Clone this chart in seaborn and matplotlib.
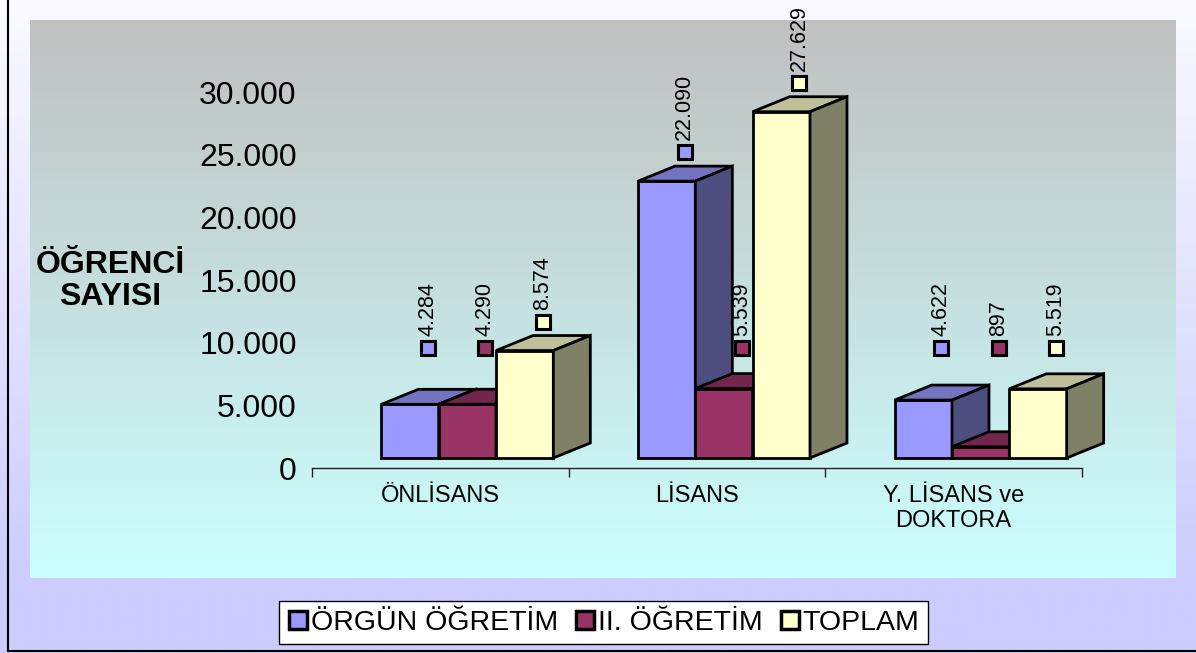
import numpy as np
import pandas as pd
import matplotlib
matplotlib.use("Agg")
import matplotlib.pyplot as plt
import matplotlib.colors as mcolors
import matplotlib.transforms as mtransforms
from matplotlib.patches import Polygon
from matplotlib.lines import Line2D
from matplotlib.ticker import FuncFormatter
import seaborn as sns

# data
categories = ["ÖNLİSANS", "LİSANS", "Y. LİSANS ve\nDOKTORA"]
series = ["ÖRGÜN ÖĞRETİM", "II. ÖĞRETİM", "TOPLAM"]
orgun = [4284, 22090, 4622]
ikinci = [4290, 5539, 897]
toplam = [8574, 27629, 5519]
yticks = [0, 5000, 10000, 15000, 20000, 25000, 30000]

front_colors = ["#9999FF", "#993366", "#FFFFCC"]


def tr(v, pos=None):
    return f"{int(round(v)):,}".replace(",", ".")


def shade(c, f):
    r, g, b = mcolors.to_rgb(c)
    return (r * f, g * f, b * f)


def vgrad(top, bottom, n=256, stop=1.0):
    t = np.clip(np.linspace(0, 1, n) / stop, 0, 1)
    a = np.array(mcolors.to_rgb(top))
    b = np.array(mcolors.to_rgb(bottom))
    return (a[None, :] * (1 - t[:, None]) + b[None, :] * t[:, None])[:, None, :]


df = pd.DataFrame({
    "kategori": categories * 3,
    "seri": [s for s in series for _ in categories],
    "deger": orgun + ikinci + toplam,
})

plt.rcParams["font.family"] = ["Liberation Sans", "DejaVu Sans"]

W, H = 1196, 653
fig = plt.figure(figsize=(W / 100, H / 100), dpi=100)

# backgrounds (outer panel + plot area)
bg = fig.add_axes([0, 0, 1, 1])
bg.imshow(vgrad("#FAFAFF", "#CCCCFF", stop=0.9), extent=(0, W, H, 0),
          aspect="auto", interpolation="bilinear")
bg.imshow(vgrad("#C0C0C0", "#CCFFFF"), extent=(30, 1176, 578, 20),
          aspect="auto", interpolation="bilinear")
bg.plot([8, 8], [0, 651], color="black", lw=1.5)
bg.plot([8, W], [651, 651], color="black", lw=1.5)
bg.set_xlim(0, W)
bg.set_ylim(H, 0)
bg.axis("off")

# main axes
ax = fig.add_axes([312 / W, 1 - 468 / H, 770 / W, 376 / H])
ax.patch.set_alpha(0)
sns.barplot(data=df, x="kategori", y="deger", hue="seri", palette=front_colors,
            width=0.67, saturation=1, edgecolor="black", linewidth=2,
            errorbar=None, legend=False, ax=ax)
ax.set_xlim(-0.5, 2.5)
ax.set_ylim(0, 30000)

# 3D look: shift bars back, add top and side faces
shift = mtransforms.ScaledTranslation(27 / 100, 10 / 100, fig.dpi_scale_trans)
bar_tr = ax.transData + shift
p0 = ax.transData.transform((0, 0))
p1 = ax.transData.transform((1, 1000))
ddx = 37 / (p1[0] - p0[0])
ddy = 15 / (p1[1] - p0[1]) * 1000

for j, (cont, col) in enumerate(zip(ax.containers, front_colors)):
    for bar in cont:
        bar.set_transform(bar_tr)
        bar.set_zorder(3 + j)
        bar.set_clip_on(False)
        bar.set_joinstyle("miter")
        x0 = bar.get_x()
        x1 = x0 + bar.get_width()
        h = bar.get_height()
        top = Polygon([(x0, h), (x1, h), (x1 + ddx, h + ddy), (x0 + ddx, h + ddy)],
                      closed=True, transform=bar_tr, fc=shade(col, 0.75),
                      ec="black", lw=2, zorder=3 + j, clip_on=False, joinstyle="miter")
        side = Polygon([(x1, 0), (x1, h), (x1 + ddx, h + ddy), (x1 + ddx, ddy)],
                       closed=True, transform=bar_tr, fc=shade(col, 0.5),
                       ec="black", lw=2, zorder=3 + j, clip_on=False, joinstyle="miter")
        ax.add_patch(top)
        ax.add_patch(side)

# value labels
lab_tr = ax.transData + mtransforms.ScaledTranslation(45 / 100, 0, fig.dpi_scale_trans)
txt_tr = ax.transData + mtransforms.ScaledTranslation(45 / 100, 12 / 100, fig.dpi_scale_trans)
for cont, col in zip(ax.containers, front_colors):
    for bar in cont:
        v = bar.get_height()
        xc = bar.get_x() + bar.get_width() / 2
        ly = max(v, 6500) + 3100
        ax.plot([xc], [ly], ls="none", marker="s", ms=10, mfc=col, mec="black",
                mew=2.2, transform=lab_tr, clip_on=False, zorder=10)
        ax.text(xc, ly, tr(v), rotation=90, ha="center", va="bottom",
                fontsize=15.5, transform=txt_tr, zorder=10)

# axes styling
for s in ["left", "top", "right"]:
    ax.spines[s].set_visible(False)
ax.spines["bottom"].set_color("#222222")
ax.spines["bottom"].set_linewidth(1)
ax.set_yticks(yticks)
ax.yaxis.set_major_formatter(FuncFormatter(tr))
ax.set_xticks([0, 1, 2])
ax.set_xticklabels(categories)
ax.set_xticks([-0.5, 0.5, 1.5, 2.5], minor=True)
ax.tick_params(axis="x", which="major", length=0, pad=12, labelsize=17)
ax.tick_params(axis="x", which="minor", length=6.5, width=1, color="#222222",
               direction="out")
ax.tick_params(axis="y", length=0, pad=11, labelsize=23)
ax.set_xlabel("")
ax.set_ylabel("")

fig.text(110 / W, 1 - 281 / H, "ÖĞRENCİ\nSAYISI", ha="center", va="center",
         fontsize=23, fontweight="bold", linespacing=1.05)

handles = [Line2D([], [], ls="none", marker="s", ms=12.5, mfc=c, mec="black", mew=2.5)
           for c in front_colors]
leg = fig.legend(handles, series, loc="center",
                 bbox_to_anchor=(603.5 / W, 1 - 622.5 / H), ncol=3, fontsize=20.5,
                 frameon=True, fancybox=False, handlelength=0.7, handletextpad=0.1,
                 columnspacing=0.6, borderpad=0.3, borderaxespad=0)
leg.get_frame().set_edgecolor("black")
leg.get_frame().set_linewidth(1)
leg.get_frame().set_facecolor("white")
leg.get_frame().set_alpha(1)

fig.savefig("out.png", dpi=100)
